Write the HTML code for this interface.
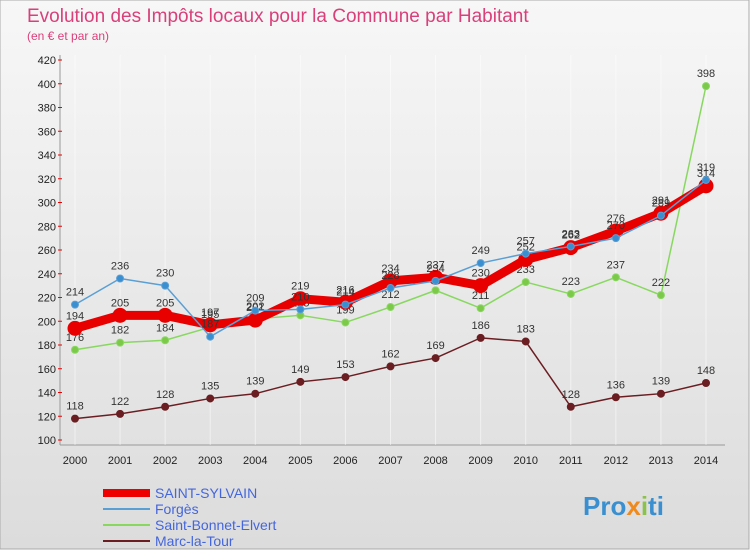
<!DOCTYPE html>
<html><head><meta charset="utf-8"><style>
body{margin:0;background:#fff;}
#c{position:relative;width:750px;height:550px;font-family:"Liberation Sans",sans-serif;}
</style></head><body>
<div id="c">
<svg id="s" width="750" height="550" xmlns="http://www.w3.org/2000/svg">
<defs><linearGradient id="bg" x1="0" y1="0" x2="0" y2="1"><stop offset="0" stop-color="#f7f7f7"/><stop offset="1" stop-color="#dcdcdc"/></linearGradient></defs>
<rect x="0" y="0" width="749" height="549" fill="url(#bg)" stroke="#aaa"/>
<text x="27" y="22" font-size="19" fill="#d9407a">Evolution des Impôts locaux pour la Commune par Habitant</text>
<text x="27" y="40" font-size="12" fill="#d9407a">(en € et par an)</text>
<g id="grid"></g><g id="series"></g>
<g>
<line x1="103" y1="493" x2="150" y2="493" stroke="#e00" stroke-width="8"/>
<text x="155" y="498" font-size="14" fill="#4466dd">SAINT-SYLVAIN</text>
<line x1="103" y1="509" x2="150" y2="509" stroke="#5a9fd4" stroke-width="2"/>
<text x="155" y="514" font-size="14" fill="#4466dd">Forgès</text>
<line x1="103" y1="525" x2="150" y2="525" stroke="#88d860" stroke-width="2"/>
<text x="155" y="530" font-size="14" fill="#4466dd">Saint-Bonnet-Elvert</text>
<line x1="103" y1="541" x2="150" y2="541" stroke="#6b1e22" stroke-width="2"/>
<text x="155" y="546" font-size="14" fill="#4466dd">Marc-la-Tour</text>
</g>
<text x="583" y="515" font-size="26" font-weight="bold" fill="#3a8fd0">Pro<tspan fill="#f08a1c">x</tspan><tspan fill="#8bc34a">i</tspan>ti</text>
</svg>
</div>
<script>
const years=[2000,2001,2002,2003,2004,2005,2006,2007,2008,2009,2010,2011,2012,2013,2014];
const yTicks=[100,120,140,160,180,200,220,240,260,280,300,320,340,360,380,400,420];
const saintSylvain=[194,205,205,197,201,219,216,234,237,230,252,262,276,291,314];
const forges=[214,236,230,187,209,210,214,228,234,249,257,263,270,289,319];
const saintBonnet=[176,182,184,195,202,205,199,212,226,211,233,223,237,222,398];
const marcLaTour=[118,122,128,135,139,149,153,162,169,186,183,128,136,139,148];
const NS="http://www.w3.org/2000/svg";
function X(i){return 75+i*(706-75)/(years.length-1);}
function Y(v){return 440-(v-100)*380/320;}
function mk(t,a,p){const e=document.createElementNS(NS,t);for(const k in a)e.setAttribute(k,a[k]);p.appendChild(e);return e;}
const g=document.getElementById('grid');
let ax=mk('line',{x1:60,y1:55,x2:60,y2:445,stroke:'#999'},g);


let xa=mk('line',{x1:60,y1:445,x2:725,y2:445,stroke:'#999'},g);


yTicks.forEach(v=>{
 const t=mk('text',{x:56,y:Y(v)+4,'font-size':11,'text-anchor':'end',fill:'#222'},g);t.textContent=v;
 
 
 const m=mk('line',{x1:58,y1:Y(v),x2:62,y2:Y(v),stroke:'#e00'},g);
 
 
});
years.forEach((y,i)=>{
 const l=mk('line',{x1:X(i),y1:55,x2:X(i),y2:445,stroke:'#fff','stroke-width':1,'stroke-opacity':0.5},g);
 
 
 const t=mk('text',{x:X(i),y:464,'font-size':11,'text-anchor':'middle',fill:'#222'},g);t.textContent=y;
 
 
});
const sg=document.getElementById('series');
function series(d,color,w,r,name,dot){
 const grp=mk('g',{},sg);
 
 
 const pl=mk('polyline',{points:d.map((v,i)=>X(i)+','+Y(v)).join(' '),fill:'none',stroke:color,'stroke-width':w,'stroke-linejoin':'round'},grp);
 
 
 d.forEach((v,i)=>{
  const c=mk('circle',{cx:X(i),cy:Y(v),r:r,fill:dot,stroke:color,'stroke-width':1},grp);
  
  
  const t=mk('text',{x:X(i),y:Y(v)-9,'font-size':11,'text-anchor':'middle',fill:'#333'},grp);t.textContent=v;
  
  
 });
}
series(marcLaTour,'#6b1e22',1.5,3.5,'marc-la-tour','#6b1e22');
series(saintBonnet,'#88d860',1.5,3.5,'saint-bonnet','#7cc94a');
series(saintSylvain,'#e80000',9,7,'saint-sylvain','#e80000');
series(forges,'#5a9fd4',1.5,3.5,'forges','#3a8fd0');
</script>
</body></html>
